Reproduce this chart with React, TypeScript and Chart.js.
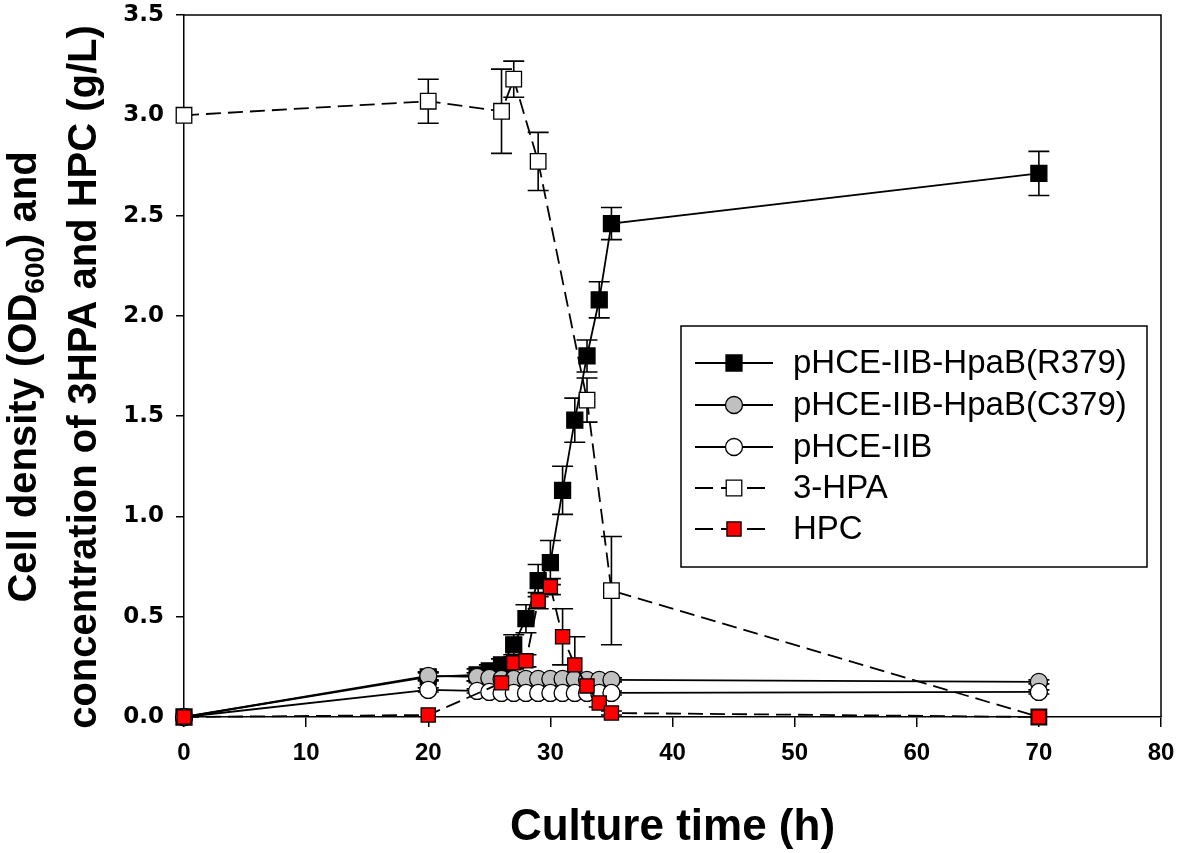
import React, { useEffect, useRef } from 'react';
import { Chart, registerables } from 'chart.js';

Chart.register(...registerables);

// ---- data ----
const timeR379 = [0, 20, 24, 25, 26, 27, 28, 29, 30, 31, 32, 33, 34, 35, 70];
const valR379 = [0, 0.2, 0.21, 0.23, 0.26, 0.36, 0.49, 0.68, 0.77, 1.13, 1.48, 1.8, 2.08, 2.46, 2.71];
const errR379 = [0, 0.02, 0.03, 0.03, 0.03, 0.05, 0.07, 0.08, 0.11, 0.12, 0.11, 0.08, 0.09, 0.08, 0.11];

const timeC379 = [0, 20, 24, 25, 26, 27, 28, 29, 30, 31, 32, 33, 34, 35, 70];
const valC379 = [0, 0.205, 0.2, 0.195, 0.19, 0.19, 0.19, 0.19, 0.19, 0.19, 0.19, 0.185, 0.185, 0.185, 0.175];
const errC379 = [0, 0.02, 0.02, 0.01, 0.01, 0.01, 0.01, 0.01, 0.01, 0.01, 0.01, 0.01, 0.01, 0.01, 0.01];

const timeIIB = [0, 20, 24, 25, 26, 27, 28, 29, 30, 31, 32, 33, 34, 35, 70];
const valIIB = [0, 0.135, 0.13, 0.125, 0.12, 0.12, 0.12, 0.12, 0.12, 0.12, 0.12, 0.12, 0.12, 0.12, 0.125];
const errIIB = [0, 0.01, 0.01, 0.01, 0.01, 0.01, 0.01, 0.01, 0.01, 0.01, 0.01, 0.01, 0.01, 0.01, 0.01];

const timeHPA = [0, 20, 26, 27, 29, 33, 35, 70];
const valHPA = [3.0, 3.07, 3.02, 3.18, 2.77, 1.58, 0.63, 0];
const errHPA = [0, 0.11, 0.21, 0.09, 0.145, 0.11, 0.27, 0];

const timeHPC = [0, 20, 26, 27, 28, 29, 30, 31, 32, 33, 34, 35, 70];
const valHPC = [0, 0.01, 0.17, 0.27, 0.28, 0.58, 0.65, 0.4, 0.26, 0.155, 0.07, 0.02, 0];
const errHPC = [0, 0, 0.02, 0.03, 0.03, 0.04, 0.04, 0.14, 0.14, 0.03, 0.02, 0.01, 0];

const seriesLabels = ['pHCE-IIB-HpaB(R379)', 'pHCE-IIB-HpaB(C379)', 'pHCE-IIB', '3-HPA', 'HPC'];
const xTicks = [0, 10, 20, 30, 40, 50, 60, 70, 80];
const yTicks = [0, 0.5, 1.0, 1.5, 2.0, 2.5, 3.0, 3.5];
const xTitle = 'Culture time (h)';
const yTitle1 = ['Cell density (OD', '600', ') and'];
const yTitle2 = 'concentration of 3HPA and HPC (g/L)';

const pts = (xs: number[], ys: number[]) => xs.map((x, i) => ({ x, y: ys[i] }));

const DASH = [15, 7];

function drawMarker(ctx: CanvasRenderingContext2D, style: string, x: number, y: number, r: number, fill: string, stroke: string, bw: number) {
  ctx.beginPath();
  if (style === 'rect') {
    const s = r * Math.SQRT1_2;
    ctx.rect(x - s, y - s, 2 * s, 2 * s);
  } else {
    ctx.arc(x, y, r, 0, Math.PI * 2);
  }
  ctx.fillStyle = fill;
  ctx.fill();
  ctx.lineWidth = bw;
  ctx.strokeStyle = stroke;
  ctx.stroke();
}

const decorPlugin = {
  id: 'decor',
  beforeDatasetsDraw(chart: any) {
    const ctx = chart.ctx as CanvasRenderingContext2D;
    const xs = chart.scales.x;
    const ys = chart.scales.y;
    ctx.save();
    ctx.strokeStyle = '#000';
    ctx.lineWidth = 1.6;
    chart.data.datasets.forEach((ds: any) => {
      const errs: number[] = ds.errorBars || [];
      ds.data.forEach((p: any, i: number) => {
        const e = errs[i];
        if (!e) return;
        const px = xs.getPixelForValue(p.x);
        const top = ys.getPixelForValue(p.y + e);
        const bot = ys.getPixelForValue(p.y - e);
        ctx.beginPath();
        ctx.moveTo(px, top);
        ctx.lineTo(px, bot);
        ctx.moveTo(px - 10.5, top);
        ctx.lineTo(px + 10.5, top);
        ctx.moveTo(px - 10.5, bot);
        ctx.lineTo(px + 10.5, bot);
        ctx.stroke();
      });
    });
    ctx.restore();
  },
  afterDatasetsDraw(chart: any) {
    const ctx = chart.ctx as CanvasRenderingContext2D;
    // legend box
    const L = { left: 681, top: 326, right: 1147, bottom: 567 };
    const rows = [363, 405, 447, 488, 529];
    ctx.save();
    ctx.fillStyle = '#fff';
    ctx.fillRect(L.left, L.top, L.right - L.left, L.bottom - L.top);
    ctx.strokeStyle = '#000';
    ctx.lineWidth = 1.5;
    ctx.strokeRect(L.left, L.top, L.right - L.left, L.bottom - L.top);
    chart.data.datasets.forEach((ds: any, i: number) => {
      const y = rows[i];
      ctx.save();
      ctx.strokeStyle = '#000';
      ctx.lineWidth = 1.8;
      ctx.beginPath();
      if (ds.borderDash && ds.borderDash.length) {
        ctx.setLineDash([18, 8]);
        ctx.moveTo(695, y);
        ctx.lineTo(765, y);
      } else {
        ctx.moveTo(695, y);
        ctx.lineTo(773, y);
      }
      ctx.stroke();
      ctx.restore();
      drawMarker(ctx, ds.pointStyle, 734, y, ds.pointRadius, ds.pointBackgroundColor, '#000', 1.3);
      ctx.fillStyle = '#000';
      ctx.font = '33px "Liberation Sans", Arial, sans-serif';
      ctx.textBaseline = 'middle';
      ctx.textAlign = 'left';
      ctx.fillText(ds.label, 793, y + 1);
    });
    ctx.restore();
  },
  afterDraw(chart: any) {
    const ctx = chart.ctx as CanvasRenderingContext2D;
    const a = chart.chartArea;
    ctx.save();
    ctx.strokeStyle = '#000';
    ctx.lineWidth = 1.5;
    ctx.beginPath();
    ctx.moveTo(a.left, a.top);
    ctx.lineTo(a.right, a.top);
    ctx.lineTo(a.right, a.bottom);
    ctx.stroke();

    // x title
    ctx.fillStyle = '#000';
    ctx.font = 'bold 44px "Liberation Sans", Arial, sans-serif';
    ctx.textAlign = 'center';
    ctx.textBaseline = 'alphabetic';
    ctx.fillText(xTitle, (a.left + a.right) / 2, 840);

    // y title line 1 with subscript
    const big = 'bold 40px "Liberation Sans", Arial, sans-serif';
    const small = 'bold 28px "Liberation Sans", Arial, sans-serif';
    const cy = 377;
    ctx.save();
    ctx.translate(36, cy);
    ctx.rotate(-Math.PI / 2);
    ctx.textAlign = 'left';
    ctx.font = big;
    const w0 = ctx.measureText(yTitle1[0]).width;
    const w2 = ctx.measureText(yTitle1[2]).width;
    ctx.font = small;
    const w1 = ctx.measureText(yTitle1[1]).width;
    let x = -(w0 + w1 + w2) / 2;
    ctx.font = big;
    ctx.fillText(yTitle1[0], x, 0);
    x += w0;
    ctx.font = small;
    ctx.fillText(yTitle1[1], x, 8);
    x += w1;
    ctx.font = big;
    ctx.fillText(yTitle1[2], x, 0);
    ctx.restore();

    ctx.save();
    ctx.translate(96, cy);
    ctx.rotate(-Math.PI / 2);
    ctx.font = big;
    ctx.textAlign = 'center';
    ctx.fillText(yTitle2, 0, 0);
    ctx.restore();

    ctx.restore();
  },
};

export default function App() {
  const ref = useRef<HTMLCanvasElement>(null);
  useEffect(() => {
    document.body.style.margin = '0';
    const common = {
      borderColor: '#000',
      borderWidth: 1.8,
      pointBorderColor: '#000',
      pointBorderWidth: 1.3,
      pointHoverRadius: 0,
      tension: 0,
      clip: false as any,
      fill: false,
    };
    const chart = new Chart(ref.current as HTMLCanvasElement, {
      type: 'line',
      data: {
        datasets: [
          {
            ...common,
            label: seriesLabels[0],
            data: pts(timeR379, valR379),
            pointStyle: 'rect',
            pointRadius: 11.3,
            pointBackgroundColor: '#000',
            order: 4,
            errorBars: errR379,
          } as any,
          {
            ...common,
            label: seriesLabels[1],
            data: pts(timeC379, valC379),
            pointStyle: 'circle',
            pointRadius: 8.5,
            pointBackgroundColor: '#c0c0c0',
            order: 3,
            errorBars: errC379,
          } as any,
          {
            ...common,
            label: seriesLabels[2],
            data: pts(timeIIB, valIIB),
            pointStyle: 'circle',
            pointRadius: 8.5,
            pointBackgroundColor: '#fff',
            order: 2,
            errorBars: errIIB,
          } as any,
          {
            ...common,
            label: seriesLabels[3],
            data: pts(timeHPA, valHPA),
            borderDash: DASH,
            pointStyle: 'rect',
            pointRadius: 11,
            pointBackgroundColor: '#fff',
            order: 1,
            errorBars: errHPA,
          } as any,
          {
            ...common,
            label: seriesLabels[4],
            data: pts(timeHPC, valHPC),
            borderDash: DASH,
            pointStyle: 'rect',
            pointRadius: 10,
            pointBackgroundColor: '#ff0000',
            order: 0,
            errorBars: errHPC,
          } as any,
        ],
      },
      options: {
        responsive: false,
        animation: false,
        devicePixelRatio: 1,
        layout: { padding: { top: 15, right: 20, bottom: 0, left: 0 } },
        plugins: { legend: { display: false }, tooltip: { enabled: false } },
        events: [],
        scales: {
          x: {
            type: 'linear',
            min: 0,
            max: 80,
            afterBuildTicks: (s: any) => { s.ticks = xTicks.map((v) => ({ value: v })); },
            ticks: {
              color: '#000',
              padding: 12,
              font: { family: '"Liberation Sans", Arial, sans-serif', weight: 'bold', size: 24 },
              callback: (v: any) => String(v),
            },
            grid: { drawOnChartArea: false, drawTicks: true, tickLength: 10, color: '#000', lineWidth: 1.5 },
            border: { display: true, color: '#000', width: 1.5 },
            afterFit: (s: any) => { s.height = 136; s.paddingLeft = 0; s.paddingRight = 0; },
          },
          y: {
            type: 'linear',
            min: 0,
            max: 3.5,
            afterBuildTicks: (s: any) => { s.ticks = yTicks.map((v) => ({ value: v })); },
            ticks: {
              color: '#000',
              padding: 12,
              font: { family: '"DejaVu Sans", sans-serif', weight: 'bold', size: 23 },
              callback: (v: any) => Number(v).toFixed(1),
            },
            grid: { drawOnChartArea: false, drawTicks: true, tickLength: 8, color: '#000', lineWidth: 1.5 },
            border: { display: true, color: '#000', width: 1.5 },
            afterFit: (s: any) => { s.width = 184; s.paddingTop = 0; s.paddingBottom = 0; },
          },
        },
      } as any,
      plugins: [decorPlugin],
    });
    return () => chart.destroy();
  }, []);
  return (
    <div style={{ width: 1181, height: 853 }}>
      <canvas ref={ref} width={1181} height={853} style={{ display: 'block' }} />
    </div>
  );
}
